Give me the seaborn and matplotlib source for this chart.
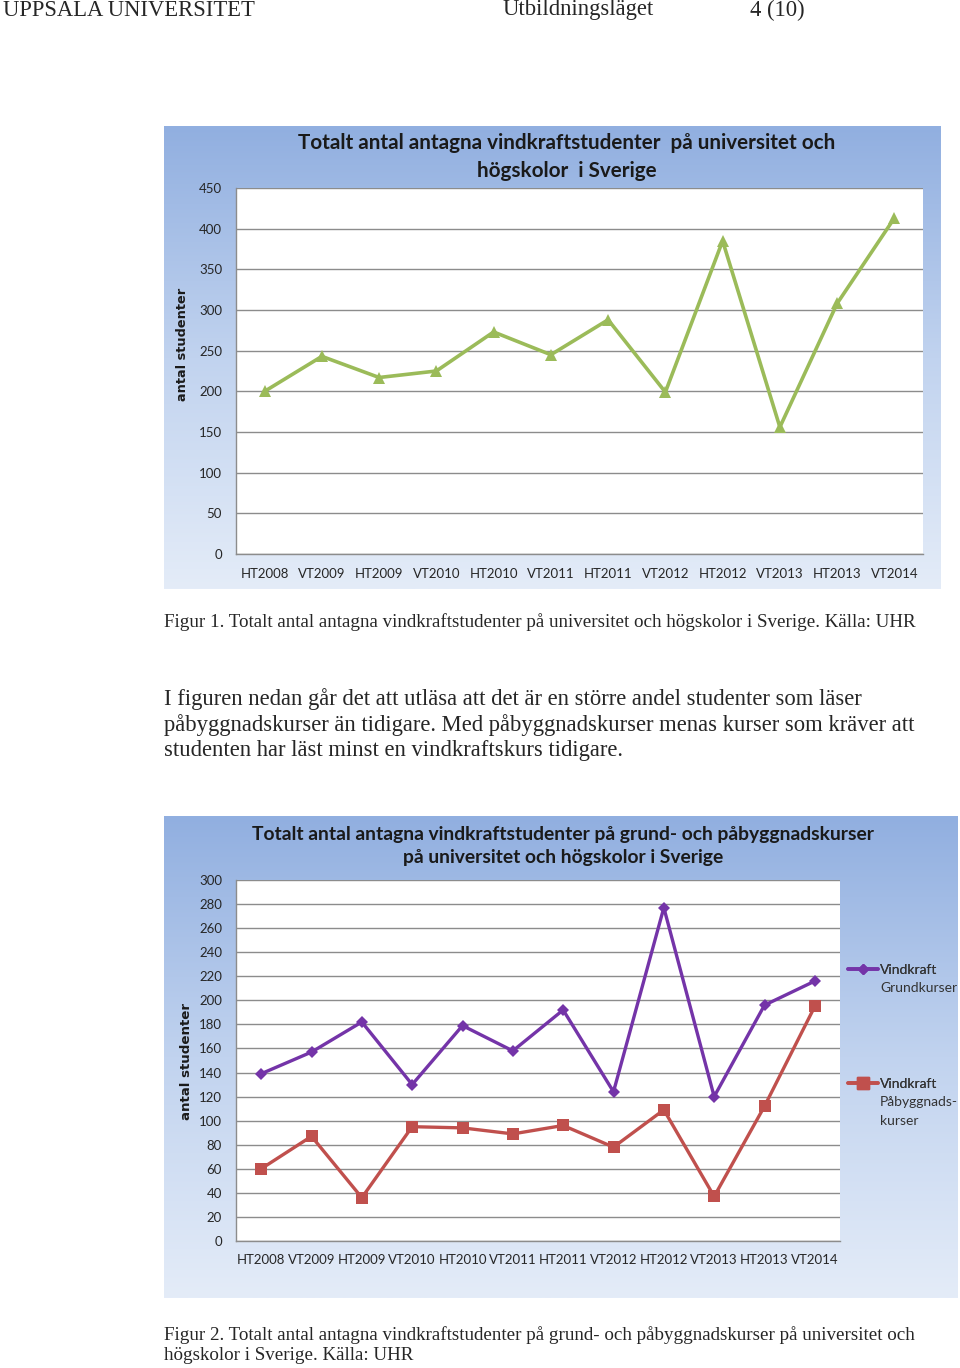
import numpy as np
import pandas as pd
import matplotlib
matplotlib.use("Agg")
import matplotlib.pyplot as plt
from matplotlib.colors import LinearSegmentedColormap
from matplotlib.lines import Line2D
import seaborn as sns

# ---- data ----
terms = ["HT2008", "VT2009", "HT2009", "VT2010", "HT2010", "VT2011",
         "HT2011", "VT2012", "HT2012", "VT2013", "HT2013", "VT2014"]
total = [200, 243, 217, 225, 273, 245, 288, 199, 385, 156, 308, 413]
grund = [139, 157, 182, 130, 179, 158, 192, 124, 277, 120, 196, 216]
pabygg = [60, 87, 36, 95, 94, 89, 96, 78, 109, 37, 112, 195]

title1 = "Totalt antal antagna vindkraftstudenter  på universitet och\nhögskolor  i Sverige"
title2 = "Totalt antal antagna vindkraftstudenter på grund- och påbyggnadskurser\npå universitet och högskolor i Sverige"
ylabel = "antal studenter"
series_names = ["Vindkraft Grundkurser", "Vindkraft Påbyggnadskurser"]
legend_lines = [["Vindkraft", "Grundkurser"], ["Vindkraft", "Påbyggnads-", "kurser"]]

sns.set_style("white")
plt.rcParams["font.family"] = ["Lato", "DejaVu Sans"]

W, H = 960, 1368
fig = plt.figure(figsize=(W / 100, H / 100), dpi=100)

def rect(x0, y0, x1, y1):
    return [x0 / W, 1 - y1 / H, (x1 - x0) / W, (y1 - y0) / H]

serif = ["Liberation Serif", "DejaVu Serif"]

def ptext(x, y, s, size, **kw):
    fig.text(x / W, 1 - y / H, s, fontsize=size, family=serif, va="center", ha="left", **kw)

# header
ptext(3, 10, "UPPSALA UNIVERSITET", 16.3)
ptext(503, 10, "Utbildningsläget", 16.3)
ptext(750, 10, "4 (10)", 16.3)

# captions / paragraph
ptext(164, 622, "Figur 1. Totalt antal antagna vindkraftstudenter på universitet och högskolor i Sverige. Källa: UHR", 13.7)
ptext(164, 699, "I figuren nedan går det att utläsa att det är en större andel studenter som läser", 16.3)
ptext(164, 725, "påbyggnadskurser än tidigare. Med påbyggnadskurser menas kurser som kräver att", 16.3)
ptext(164, 751, "studenten har läst minst en vindkraftskurs tidigare.", 16.3)
ptext(164, 1335, "Figur 2. Totalt antal antagna vindkraftstudenter på grund- och påbyggnadskurser på universitet och", 13.7)
ptext(164, 1356, "högskolor i Sverige. Källa: UHR", 13.7)

cmap = LinearSegmentedColormap.from_list("bg", ["#91afe0", "#c1d3ef", "#e4ecf8"])

def background(x0, y0, x1, y1):
    bg = fig.add_axes(rect(x0, y0, x1, y1), zorder=0)
    grad = np.linspace(0, 1, 256).reshape(-1, 1)
    bg.imshow(grad, aspect="auto", cmap=cmap, extent=[0, 1, 0, 1], origin="upper")
    bg.set_axis_off()
    return bg

def style_axes(ax, ymax, step):
    ax.set_facecolor("white")
    ax.set_xlim(-0.5, len(terms) - 0.5)
    ax.set_ylim(0, ymax)
    ax.set_yticks(np.arange(0, ymax + 1, step))
    ax.yaxis.grid(True, color="#8c8c8c", linewidth=1.0)
    ax.xaxis.grid(False)
    for side in ["top", "right"]:
        ax.spines[side].set_visible(False)
    for side in ["left", "bottom"]:
        ax.spines[side].set_color("#8c8c8c")
        ax.spines[side].set_linewidth(1.0)
    ax.tick_params(axis="both", length=0, labelsize=9.5, colors="#262626")
    ax.tick_params(axis="x", pad=10)
    ax.tick_params(axis="y", pad=10)
    ax.set_xlabel("")
    ax.set_ylabel("")

# ---- chart 1 ----
background(164, 126, 940, 589)
ax1 = fig.add_axes(rect(236, 188, 923, 554), zorder=1)
df1 = pd.DataFrame({"term": terms, "antal": total})
sns.lineplot(data=df1, x="term", y="antal", ax=ax1, color="#9bbb59",
             linewidth=2.6, marker="^", markersize=9, markeredgewidth=0,
             sort=False)
style_axes(ax1, 450, 50)
fig.text(567 / W, 1 - 157 / H, title1, ha="center", va="center",
         fontsize=14.9, fontweight="bold", color="#1a1a1a", linespacing=1.45)
fig.text(182 / W, 1 - 344 / H, ylabel, rotation=90, ha="center", va="center",
         fontsize=9.3, fontweight="bold", family=["DejaVu Sans"], color="#1a1a1a")

# ---- chart 2 ----
background(164, 816, 958, 1298)
ax2 = fig.add_axes(rect(236, 880, 840, 1241), zorder=1)
df2 = pd.DataFrame({"term": terms * 2,
                    "antal": grund + pabygg,
                    "serie": [series_names[0]] * len(terms) + [series_names[1]] * len(terms)})
sns.lineplot(data=df2, x="term", y="antal", hue="serie", style="serie",
             palette=["#7434a8", "#c0504d"], markers=["D", "s"], dashes=False,
             linewidth=2.4, markersize=8, markeredgewidth=0, ax=ax2, sort=False,
             legend=False)
ax2.lines[0].set_markersize(6)
style_axes(ax2, 300, 20)
ax2.tick_params(axis="x", pad=9)
fig.text(563 / W, 1 - 846 / H, title2, ha="center", va="center",
         fontsize=13.9, fontweight="bold", color="#1a1a1a", linespacing=1.45)
fig.text(186 / W, 1 - 1061 / H, ylabel, rotation=90, ha="center", va="center",
         fontsize=9.6, fontweight="bold", family=["DejaVu Sans"], color="#1a1a1a")

# legend (handle aligned to first text line, as in the original)
handles = [Line2D([], [], color="#7434a8", marker="D", markersize=5, linewidth=2.6),
           Line2D([], [], color="#c0504d", marker="s", markersize=8, linewidth=2.6)]
legend_y = [970, 1084]
for h, lines, y in zip(handles, legend_lines, legend_y):
    leg = fig.legend([h], [lines[0]], loc="center left",
                     bbox_to_anchor=(848 / W, 1 - y / H), frameon=False,
                     fontsize=10, handlelength=2.15, handletextpad=0.15,
                     borderpad=0, borderaxespad=0)
    for t in leg.get_texts():
        t.set_color("#333333")
    fig.add_artist(leg)
    for i, s in enumerate(lines[1:], start=1):
        fig.text(880 / W, 1 - (y + 18.5 * i) / H, s, fontsize=10, color="#333333",
                 ha="left", va="center")

fig.savefig("out.png", dpi=100, facecolor="white")
